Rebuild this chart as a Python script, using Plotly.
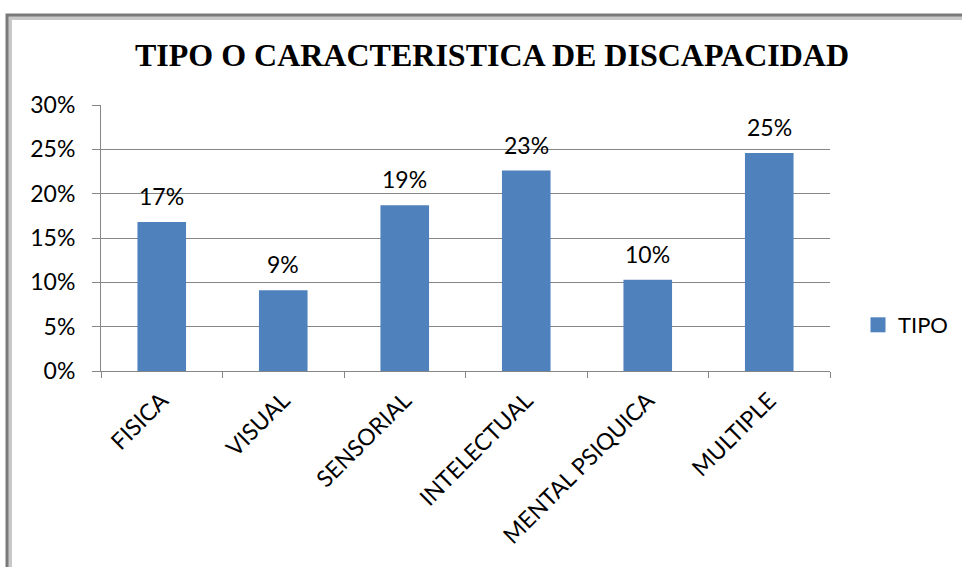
import plotly.graph_objects as go

categories = ["FISICA", "VISUAL", "SENSORIAL", "INTELECTUAL", "MENTAL PSIQUICA", "MULTIPLE"]
values = [0.168, 0.091, 0.187, 0.226, 0.103, 0.246]
series_name = "TIPO"
title_text = "TIPO O CARACTERISTICA DE DISCAPACIDAD"
ytick_vals = [0, 0.05, 0.10, 0.15, 0.20, 0.25, 0.30]

W, H = 962, 567
L, R, T, B = 101, 132, 105, 196
pw, ph = W - L - R, H - T - B
FONT = "Lato, 'Open Sans', sans-serif"
BAR_COLOR = "#4F81BD"

def px(x):
    return (x - L) / pw

def py(y):
    return (H - B - y) / ph

fig = go.Figure()
fig.add_trace(go.Bar(
    x=categories, y=values, name=series_name,
    marker=dict(color=BAR_COLOR, line=dict(width=0)),
    showlegend=False,
))
# legend entry with a larger square swatch
fig.add_trace(go.Scatter(
    x=[None], y=[None], mode="markers", name=series_name,
    marker=dict(symbol="square", size=15, color=BAR_COLOR),
    showlegend=True,
))

for c, v in zip(categories, values):
    fig.add_annotation(
        x=c, y=v, text=f"{round(v*100):d}%", showarrow=False,
        yanchor="middle", yshift=26,
        font=dict(family=FONT, size=23, color="#000000"),
    )

# outer frame with shadow
fig.add_shape(type="rect", xref="paper", yref="paper",
              x0=px(9), x1=px(975), y0=py(17), y1=py(580),
              line=dict(color="#c8c8c8", width=6), layer="below")
fig.add_shape(type="rect", xref="paper", yref="paper",
              x0=px(7), x1=px(975), y0=py(15), y1=py(580),
              line=dict(color="#7a7a7a", width=3), layer="below")

fig.update_layout(
    width=W, height=H,
    margin=dict(l=L, r=R, t=T, b=B, autoexpand=False),
    paper_bgcolor="white", plot_bgcolor="white",
    bargap=0.6,
    title=dict(text=f"<b>{title_text}</b>", x=492 / W, xanchor="center",
               y=1 - 55 / H, yanchor="middle",
               font=dict(family="'Liberation Serif', 'Times New Roman', serif", size=32, color="#000000")),
    legend=dict(x=px(858), y=py(325), xanchor="left", yanchor="middle",
                font=dict(family=FONT, size=22, color="#000000"),
                itemwidth=30, bgcolor="rgba(0,0,0,0)"),
    xaxis=dict(
        tickangle=-45, ticks="outside", ticklen=6, tickcolor="#868686",
        tickson="boundaries", showline=True, linecolor="#868686", linewidth=1,
        showgrid=False, ticklabelstandoff=6,
        tickfont=dict(family=FONT, size=23, color="#000000"),
    ),
    yaxis=dict(
        range=[0, 0.30], tickvals=ytick_vals, tickformat=".0%",
        ticks="outside", ticklen=8, tickcolor="#868686",
        showline=True, linecolor="#868686", linewidth=1,
        showgrid=True, gridcolor="#868686", gridwidth=1, zeroline=False,
        ticklabelstandoff=12,
        tickfont=dict(family=FONT, size=23, color="#000000"),
    ),
)

fig.write_html("out.html", config={"displayModeBar": False},
               post_script="document.body.style.margin='0px';")
